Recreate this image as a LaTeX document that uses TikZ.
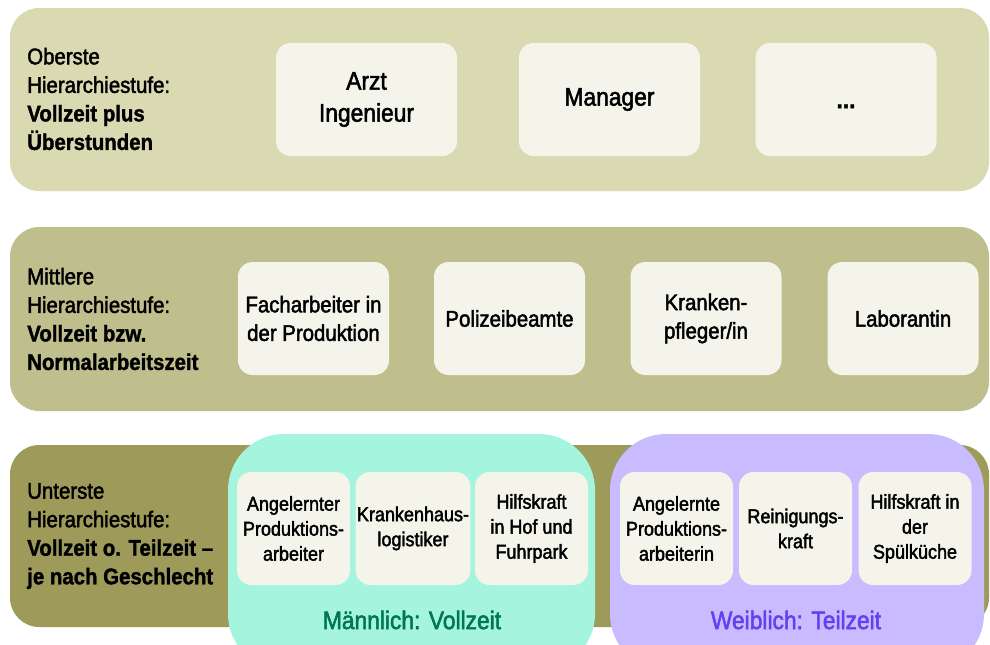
\documentclass[tikz,border=0pt]{standalone}
\usepackage{fontspec}
\setmainfont{Liberation Sans}[FakeStretch=0.9,
    UprightFont={Liberation Sans},UprightFeatures={FakeBold=2},
    BoldFont={Liberation Sans Bold},BoldFeatures={FakeBold=1.5}]
\definecolor{bandoben}{RGB}{217,217,178}
\definecolor{bandmitte}{RGB}{191,191,142}
\definecolor{bandunten}{RGB}{158,154,90}
\definecolor{boxfill}{RGB}{244,244,234}
\definecolor{mannfill}{RGB}{165,245,222}
\definecolor{manntext}{RGB}{0,119,78}
\definecolor{fraufill}{RGB}{201,187,255}
\definecolor{frautext}{RGB}{98,66,240}

\begin{document}
\begin{tikzpicture}[x=0.75pt,y=-0.75pt,
    job/.style={fill=boxfill,rounded corners=11pt,minimum width=135.75pt,minimum height=84.75pt,
        align=center,inner sep=1pt,font=\fontsize{17}{21.4}\selectfont},
    jobgross/.style={job,font=\fontsize{19}{24}\selectfont},
    jobklein/.style={job,minimum width=84.75pt,font=\fontsize{15}{18.75}\selectfont},
    stufe/.style={anchor=west,align=left,inner sep=0pt,font=\fontsize{17}{21.4}\selectfont},
    gruppe/.style={font=\fontsize{19}{22}\selectfont}]
    \useasboundingbox (0,0) rectangle (990,644);
    \clip (0,0) rectangle (990,644);
    % Hintergrund der drei Stufen
    \fill[bandoben,rounded corners=22pt] (10,8) rectangle (989,191);
    \fill[bandmitte,rounded corners=22pt] (10,227) rectangle (989,411);
    \fill[bandunten,rounded corners=22pt] (10,445) rectangle (989,627);
    \fill[mannfill,rounded corners=42pt] (228,434) rectangle (595,670);
    \fill[fraufill,rounded corners=42pt] (610,434) rectangle (984,670);
    % oberste Stufe
    \node[stufe] (oberste) at (27,99) {Oberste\\Hierarchiestufe:\\\textbf{Vollzeit plus}\\\textbf{Überstunden}};
    \node[jobgross] (arzt) at (366.5,99.5) {Arzt\\Ingenieur};
    \node[jobgross] (manager) at (609.5,99.5) {\vphantom{M}Manager};
    \node[jobgross] (weitere) at (846,99.5) {\vphantom{M}\textbf{...}};
    % mittlere Stufe
    \node[stufe] (mittlere) at (27,319) {Mittlere\\Hierarchiestufe:\\\textbf{Vollzeit bzw.}\\\textbf{Normalarbeitszeit}};
    \node[job,minimum width=113.25pt] (facharbeiter) at (313.5,318.5) {Facharbeiter in\\der Produktion};
    \node[job,minimum width=113.25pt] (polizei) at (509.5,318.5) {Polizeibeamte};
    \node[job,minimum width=113.25pt] (pfleger) at (706,318.5) {Kranken-\\pfleger/in};
    \node[job,minimum width=113.25pt] (laborantin) at (903,318.5) {Laborantin};
    % unterste Stufe
    \node[stufe] (unterste) at (27,536) {Unterste\\Hierarchiestufe:\\\textbf{Vollzeit o. Teilzeit –}\\\textbf{je nach Geschlecht}};
    \node[jobklein] (arbeiter) at (293.5,528.5) {Angelernter\\Produktions-\\arbeiter};
    \node[jobklein] (logistiker) at (413,528.5) {Krankenhaus-\\logistiker};
    \node[jobklein] (hofkraft) at (531.5,528.5) {Hilfskraft\\in Hof und\\Fuhrpark};
    \node[jobklein] (arbeiterin) at (676.5,528.5) {Angelernte\\Produktions-\\arbeiterin};
    \node[jobklein] (reinigung) at (795.5,528.5) {Reinigungs-\\kraft};
    \node[jobklein] (spuelkraft) at (915,528.5) {Hilfskraft in\\der\\Spülküche};
    \node[gruppe,text=manntext] (maennlich) at (412,620) {Männlich: Vollzeit};
    \node[gruppe,text=frautext] (weiblich) at (796,620) {Weiblich: Teilzeit};
\end{tikzpicture}
\end{document}
